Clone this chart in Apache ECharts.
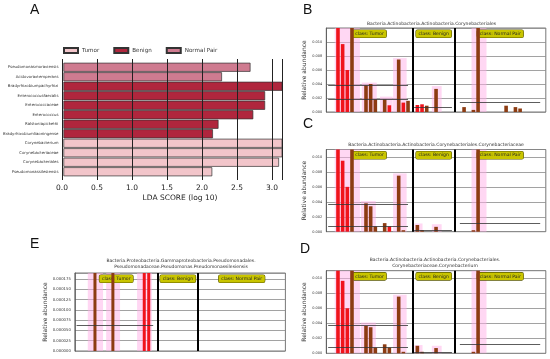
<!DOCTYPE html>
<html><head><meta charset="utf-8">
<script src="https://cdn.jsdelivr.net/npm/echarts@6/dist/echarts.min.js"></script>
<style>html,body{margin:0;padding:0;background:#fff}#c{width:550px;height:359px}</style>
</head><body><div id="c"></div>
<script>
// ---------- Panel A data ----------
const ldaFeatures = ['Pseudomonasmoraviensis','Acidovoraxtemperans','Bradyrhizobiumpachyrhizi','Enterococcusfaecalis','Enterococcaceae','Enterococcus','Ralstoniapickettii','Bradyrhizobiumliaoningense','Corynebacterium','Corynebacteriaceae','Corynebacteriales','Pseudomonassilesiensis'];
const ldaScores = [2.69, 2.28, 3.15, 2.9, 2.9, 2.73, 2.23, 2.15, 3.2, 3.2, 3.1, 2.14];
const ldaClass = ['Normal Pair','Normal Pair','Benign','Benign','Benign','Benign','Benign','Benign','Tumor','Tumor','Tumor','Tumor'];
const classNames = ['Tumor','Benign','Normal Pair'];

// ---------- Abundance panels (sample slot index, value, colour r/b) ----------
const nSlots = 47;
const classBounds = [18.5, 27.5];
const bSlots  = [2,3,4,5,8,9,10,12,13,15,16,17,19,20,21,23,29,31,32,38,40,41];
const bValues = [0.014,0.0097,0.006,0.014,0.0038,0.004,0.0018,0.0018,0.00096,0.0075,0.00134,0.0016,0.001,0.0011,0.0009,0.0033,0.0007,0.0003,0.014,0.0009,0.0007,0.0005];
const bColors = ['r','r','r','b','b','b','b','b','r','b','r','b','r','r','b','b','b','b','b','b','b','b'];
const bMeans  = [0.0038, 0.0018, 0.0007, 0.0014];

const cSlots  = [2,3,4,5,8,9,10,12,13,15,16,19,20,23,31,32];
const cValues = [0.014,0.0095,0.006,0.014,0.0038,0.0034,0.0007,0.00115,0.0007,0.0075,0.0002,0.0009,0.0002,0.00065,0.0002,0.014];
const cColors = ['r','r','r','b','b','b','b','b','r','b','b','b','b','b','b','b'];
const cMeans  = [0.0037, 0.0007, 0.0002, 0.00115];

const dSlots  = [2,3,4,5,8,9,10,12,13,15,16,19,20,23,31,32];
const dValues = [0.014,0.00965,0.006,0.014,0.00364,0.00347,0.00075,0.0012,0.00075,0.00755,0.0002,0.001,0.0002,0.0007,0.0002,0.014];
const dColors = ['r','r','r','b','b','b','b','b','b','b','b','b','b','b','b','b'];
const dMeans  = [0.0038, 0.00075, 0.0002, 0.0012];

const eSlots  = [4,8,15,16];
const eValues = [0.00025,0.00025,0.00025,0.00025];
const eColors = ['b','b','r','r'];
const eMeans  = [0.000063, null, null, null];

const bPink = [[1.8,7.2,null],[7.6,10.8,0.0042],[11.5,14.2,0.0022],[14.3,17.2,0.0077],[22.6,24.7,0.0037],[31.1,34.3,null]];
const cPink = [[1.8,7.2,null],[7.4,10.6,0.0041],[14.3,17.2,0.0078],[18.9,20.6,0.0011],[22.6,24.7,0.001],[31.1,34.3,null]];
const dPink = [[1.8,7.2,null],[7.4,10.6,0.0041],[14.3,17.2,0.0078],[18.9,20.6,0.0011],[22.6,24.7,0.001],[31.1,34.3,null]];
const ePink = [[2.9,6.3,null],[7.0,10.1,null],[13.9,17.2,null]];

const titleB = 'Bacteria.Actinobacteria.Actinobacteria.Corynebacteriales';
const titleC = 'Bacteria.Actinobacteria.Actinobacteria.Corynebacteriales.Corynebacteriaceae';
const titleD = 'Bacteria.Actinobacteria.Actinobacteria.Corynebacteriales.\nCorynebacteriaceae.Corynebacterium';
const titleE = 'Bacteria.Proteobacteria.Gammaproteobacteria.Pseudomonadales.\nPseudomonadaceae.Pseudomonas.Pseudomonassilesiensis';

// ---------- build ----------
const F = 'DejaVu Sans';
const RED = '#f0141c', BROWN = '#8c3c12', PINK = 'rgba(255,175,232,0.5)';
const classColor = {'Tumor':'#f2c5ca','Benign':'#b0263d','Normal Pair':'#cf7b90'};
const grids = [], xAxes = [], yAxes = [], series = [];

// Panel A
grids.push({left:62, top:59, width:220, height:121});
grids.push({left:62, top:62.5, width:220, height:114});
xAxes.push({gridIndex:0, type:'value', min:0, max:3.143, interval:0.5, z:10,
  axisLine:{show:false}, axisTick:{show:false},
  splitLine:{show:true, lineStyle:{color:'#222', width:1}},
  axisLabel:{fontFamily:F, fontSize:7.5, color:'#222', margin:4, showMaxLabel:false,
    formatter: v => (Math.abs(v/0.5 - Math.round(v/0.5)) < 1e-6 ? v.toFixed(1) : '')},
  name:'LDA SCORE (log 10)', nameLocation:'middle', nameGap:14,
  nameTextStyle:{fontFamily:F, fontSize:7.5, color:'#222', padding:[0,0,0,16]}});
yAxes.push({gridIndex:0, type:'value', show:false});
xAxes.push({gridIndex:1, type:'value', min:0, max:3.143, show:false});
yAxes.push({gridIndex:1, type:'category', inverse:true, data:ldaFeatures,
  axisLine:{show:false}, axisTick:{show:false}, splitLine:{show:false},
  axisLabel:{fontFamily:F, fontSize:3.9, color:'#333', margin:5}});
classNames.forEach(c => {
  series.push({type:'bar', name:c, xAxisIndex:1, yAxisIndex:1, stack:'lda', clip:true,
    barCategoryGap:'5%',
    data: ldaScores.map((v,i) => ldaClass[i] === c ? v : '-'),
    itemStyle:{color:classColor[c], borderColor:'#333', borderWidth:0.7}});
});

function abundance(p) {
  const gi = grids.length;
  grids.push({left:p.left, top:p.top, width:p.width, height:p.height, show:true,
    borderColor:'#555', borderWidth:0.8});
  const xc = xAxes.length;
  xAxes.push({gridIndex:gi, type:'category', data:Array.from({length:nSlots},(_,i)=>'s'+i),
    axisLine:{show:false}, axisTick:{show:false}, axisLabel:{show:false}, splitLine:{show:false}});
  const xv = xAxes.length;
  xAxes.push({gridIndex:gi, type:'value', min:0, max:nSlots, show:false});
  const ya = yAxes.length;
  yAxes.push({gridIndex:gi, type:'value', min:0, max:p.max, interval:p.interval,
    axisLine:{show:true, lineStyle:{color:'#555', width:0.8}}, axisTick:{show:false},
    axisLabel:{fontFamily:F, fontSize:p.tickFont, color:'#333', margin:4, showMaxLabel:false,
      formatter: v => v.toFixed(p.dec)},
    splitLine:{show:true, lineStyle:{color:'#8a8a8a', width:0.8}},
    name:'Relative abundance', nameLocation:'middle', nameGap:p.nameGap,
    nameTextStyle:{fontFamily:F, fontSize:6, color:'#333'}});
  // pink highlight areas
  series.push({type:'line', xAxisIndex:xv, yAxisIndex:ya, data:[], z:1, silent:true,
    markArea:{silent:true, itemStyle:{color:PINK},
      data: p.pink.map(a => [{coord:[a[0],0]},{coord:[a[1], a[2] == null ? p.max : a[2]]}])}});
  // bars
  const red = new Array(nSlots).fill('-'), brown = new Array(nSlots).fill('-');
  p.slots.forEach((s,i) => { (p.colors[i] === 'r' ? red : brown)[s] = p.values[i]; });
  series.push({type:'bar', xAxisIndex:xc, yAxisIndex:ya, data:red, barWidth:p.barWidth, barGap:'-100%', clip:true, z:2,
    itemStyle:{color:RED}});
  series.push({type:'bar', xAxisIndex:xc, yAxisIndex:ya, data:brown, barWidth:p.barWidth, barGap:'-100%', clip:true, z:2,
    itemStyle:{color:BROWN}});
  // class separators, mean/median lines
  const spans = [[0.4,17.5],[0.4,17.5],[18.8,26.9],[28.6,45.8]];
  const meanLines = [];
  p.means.forEach((m,i) => { if (m != null) meanLines.push([{coord:[spans[i][0], m]},{coord:[spans[i][1], m]}]); });
  series.push({type:'line', xAxisIndex:xv, yAxisIndex:ya, data:[], z:3, silent:true,
    markLine:{silent:true, symbol:['none','none'], label:{show:false},
      data: meanLines, lineStyle:{color:'#333', width:0.8, type:'solid'}}});
  series.push({type:'line', xAxisIndex:xv, yAxisIndex:ya, data:[], z:4, silent:true,
    markLine:{silent:true, symbol:['none','none'], label:{show:false},
      data: classBounds.map(b => ({xAxis:b})), lineStyle:{color:'#000', width:2, type:'solid'}}});
  // class label boxes
  const regions = [[0,classBounds[0]],[classBounds[0],classBounds[1]],[classBounds[1],nSlots]];
  series.push({type:'line', xAxisIndex:xv, yAxisIndex:ya, data:[], z:5, silent:true,
    markArea:{silent:true, itemStyle:{color:'rgba(0,0,0,0)'},
      label:{show:true, position:'insideTop', distance:2, fontFamily:F, fontSize:4.6, color:'#222',
        backgroundColor:'#c9c500', borderColor:'#5a5800', borderWidth:0.6, borderRadius:1.5, padding:[1.2,2.5]},
      data: regions.map((r,i) => [{name:'class: ' + classNames[i], coord:[r[0],0]},{coord:[r[1],p.max]}])}});
}

abundance({left:326.3, top:28, width:219.5, height:84, max:0.012, interval:0.002, dec:3, tickFont:3.5, nameGap:19, barWidth:3.6,
  slots:bSlots, values:bValues, colors:bColors, means:bMeans, pink:bPink});
abundance({left:326.3, top:149.5, width:219.5, height:82.2, max:0.011, interval:0.002, dec:3, tickFont:3.5, nameGap:19, barWidth:3.6,
  slots:cSlots, values:cValues, colors:cColors, means:cMeans, pink:cPink});
abundance({left:326.3, top:270.7, width:219.5, height:82.6, max:0.011, interval:0.002, dec:3, tickFont:3.5, nameGap:19, barWidth:3.6,
  slots:dSlots, values:dValues, colors:dColors, means:dMeans, pink:dPink});
abundance({left:74.8, top:273, width:210.6, height:78, max:0.00019, interval:0.000025, dec:6, tickFont:3.8, nameGap:23, barWidth:3,
  slots:eSlots, values:eValues, colors:eColors, means:eMeans, pink:ePink});

const letter = (t,x,y) => ({text:t, left:x, top:y, padding:0, textStyle:{fontFamily:'Liberation Sans', fontSize:14, fontWeight:'normal', color:'#111'}});
const sub = (t,x,y) => ({text:t, left:x, top:y, padding:0, textAlign:'center', textStyle:{fontFamily:F, fontSize:4.5, lineHeight:6, fontWeight:'normal', color:'#333'}});

const chart = echarts.init(document.getElementById('c'));
chart.setOption({
  animation:false,
  backgroundColor:'#fff',
  title:[letter('A',30,3), letter('B',303,3), letter('C',303,117), letter('D',300,242), letter('E',30,237),
    sub(titleB,431.5,20.5), sub(titleC,436,141.5), sub(titleD,435,257), sub(titleE,181,258)],
  legend:{data:classNames, left:63, top:47, padding:0, itemWidth:14, itemHeight:5, itemGap:14, icon:'rect',
    textStyle:{fontFamily:F, fontSize:5.6, color:'#333', padding:[0,0,0,-1]}},
  grid:grids, xAxis:xAxes, yAxis:yAxes, series:series
});
</script></body></html>
